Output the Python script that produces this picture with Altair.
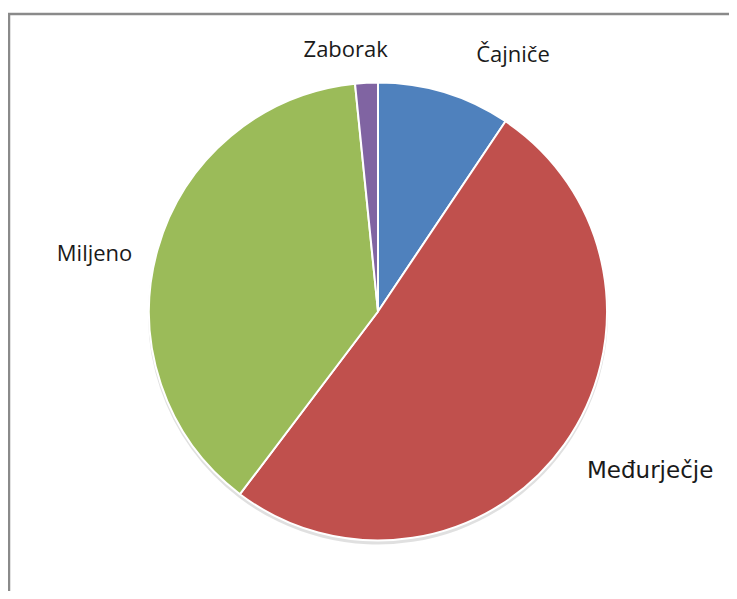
import altair as alt
import pandas as pd

categories = ["Čajniče", "Međurječje", "Miljeno", "Zaborak"]
values = [9.4, 50.9, 38.1, 1.6]
slice_order = [0, 1, 2, 3]
colors = ["#4F81BD", "#C0504D", "#9BBB59", "#8064A2"]

df = pd.DataFrame({"cat": categories, "val": values, "ord": slice_order})

W, H = 720, 577
CX, CY, R = 369, 297.5, 229

base = alt.Chart(df).encode(
    theta=alt.Theta("val:Q", stack=True),
    order=alt.Order("ord:Q"),
)

shadow = base.mark_arc(radius=R + 1, color="#000000", opacity=0.12).encode(
    x=alt.value(CX), y=alt.value(CY + 3)
)

pie = base.mark_arc(radius=R, stroke="white", strokeWidth=2).encode(
    color=alt.Color("cat:N", scale=alt.Scale(domain=categories, range=colors), legend=None),
    x=alt.value(CX),
    y=alt.value(CY),
)

# label styling: (category, dx, dy, font, size)
label_styles = [
    ("Čajniče", 52, 16, "Open Sans", 22),
    ("Međurječje", 40, -6, "DejaVu Sans", 23),
    ("Miljeno", -9, 19, "Open Sans", 22),
    ("Zaborak", -18, 23, "Open Sans", 22),
]

labels = []
for cat, dx, dy, font, size in label_styles:
    lay = (
        alt.Chart(df)
        .transform_window(cum="sum(val)", sort=[alt.SortField("ord")])
        .transform_calculate(mid="datum.cum - datum.val / 2")
        .transform_filter(alt.datum.cat == cat)
        .mark_text(dx=dx, dy=dy, font=font, fontSize=size, color="#1a1a1a",
                   align="center", baseline="middle")
        .encode(
            theta=alt.Theta("mid:Q", stack=None),
            radius=alt.value(285),
            x=alt.value(CX),
            y=alt.value(CY),
            text="cat:N",
        )
    )
    labels.append(lay)

frame_df = pd.DataFrame({"k": [0]})
top_rule = alt.Chart(frame_df).mark_rule(color="#8a8a8a", strokeWidth=2.5).encode(
    x=alt.value(-2), x2=alt.value(W + 2), y=alt.value(0)
)
left_rule = alt.Chart(frame_df).mark_rule(color="#8a8a8a", strokeWidth=2.5).encode(
    x=alt.value(0), y=alt.value(0), y2=alt.value(H + 2)
)

chart = (
    alt.layer(shadow, pie, *labels, top_rule, left_rule)
    .properties(
        width=W,
        height=H,
        padding={"left": 1, "top": 6, "right": 0, "bottom": 0},
        autosize=alt.AutoSizeParams(type="none"),
        background="white",
    )
    .configure_view(stroke=None)
)

chart.save("out.html", embed_options={"renderer": "svg", "actions": False})
